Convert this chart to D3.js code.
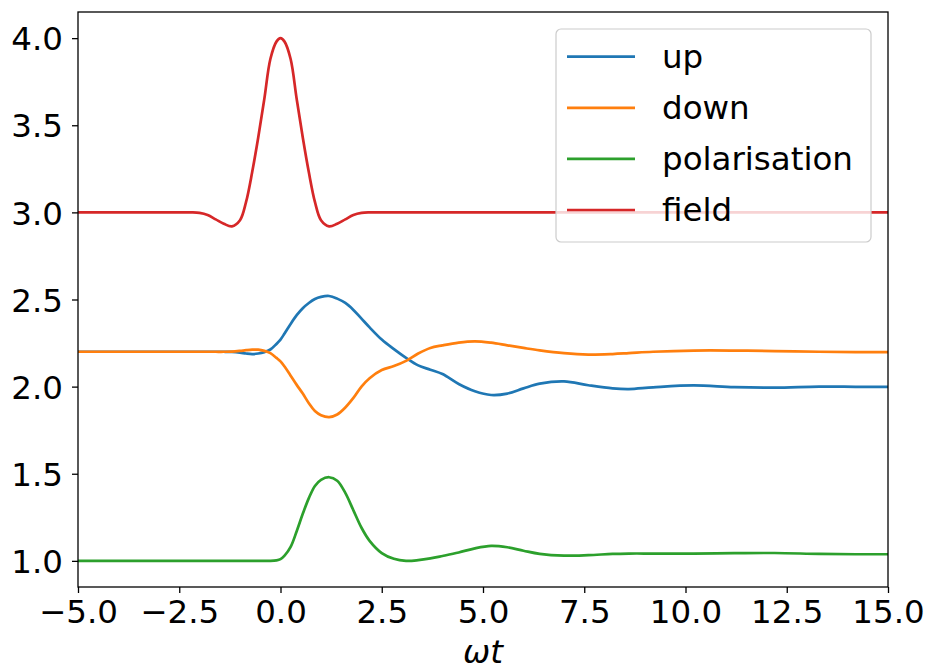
<!DOCTYPE html>
<html>
<head>
<meta charset="utf-8">
<script src="https://cdn.jsdelivr.net/npm/d3@7"></script>
<style>
  html, body { margin: 0; padding: 0; background: #ffffff; }
  svg { display: block; }
</style>
</head>
<body>
<svg id="chart" width="926" height="671"></svg>
<script>
// ---- data ----
const t = [-5, -2.5, -2.2, -2.0, -1.8, -1.6, -1.4, -1.2, -1.0, -0.85, -0.7, -0.55, -0.4, -0.25, -0.1, 0,
           0.1, 0.25, 0.4, 0.55, 0.7, 0.85, 1.0, 1.2, 1.4, 1.6, 1.8, 2.0, 2.2, 2.5, 2.8, 3.1, 3.4, 3.7,
           4.0, 4.4, 4.8, 5.2, 5.6, 6.0, 6.4, 7.0, 7.6, 8.2, 8.6, 9.2, 10.2, 11.2, 12.2, 13.3, 14.2, 15];

const up = [2.2, 2.2, 2.2, 2.2, 2.2, 2.2, 2.2, 2.199, 2.195, 2.19, 2.187, 2.19, 2.198, 2.213, 2.245, 2.27,
            2.305, 2.36, 2.41, 2.45, 2.48, 2.503, 2.515, 2.52, 2.505, 2.48, 2.44, 2.39, 2.34, 2.27, 2.215, 2.165, 2.122, 2.097,
            2.072, 2.015, 1.973, 1.952, 1.96, 1.99, 2.017, 2.03, 2.008, 1.99, 1.986, 1.996, 2.007, 1.997, 1.994, 2.0, 1.999, 1.998];

const down = [2.2, 2.2, 2.2, 2.2, 2.2, 2.2, 2.2, 2.201, 2.205, 2.209, 2.212, 2.212, 2.205, 2.192, 2.165, 2.145,
              2.115, 2.063, 2.01, 1.96, 1.905, 1.86, 1.836, 1.825, 1.84, 1.88, 1.935, 2.0, 2.048, 2.095, 2.118, 2.148, 2.19, 2.222,
              2.237, 2.253, 2.26, 2.252, 2.237, 2.222, 2.208, 2.192, 2.184, 2.187, 2.192, 2.2, 2.207, 2.207, 2.204, 2.2, 2.198, 2.198];

const polarisation = [1.0, 1.0, 1.0, 1.0, 1.0, 1.0, 1.0, 1.0, 1.0, 1.0, 1.0, 1.0, 1.0, 1.0, 1.003, 1.01,
                      1.03, 1.08, 1.17, 1.27, 1.36, 1.43, 1.465, 1.48, 1.46, 1.39, 1.29, 1.19, 1.115, 1.045, 1.012, 1.0, 1.004, 1.014,
                      1.028, 1.048, 1.072, 1.086, 1.078, 1.058, 1.04, 1.03, 1.033, 1.04, 1.042, 1.042, 1.042, 1.044, 1.045, 1.04, 1.038, 1.038];

const field = [3.0, 3.0, 3.0, 2.997, 2.985, 2.96, 2.935, 2.92, 2.955, 3.06, 3.23, 3.43, 3.65, 3.88, 3.98, 4.0,
               3.98, 3.88, 3.65, 3.43, 3.23, 3.06, 2.955, 2.92, 2.935, 2.96, 2.985, 2.997, 3.0, 3.0, 3.0, 3.0, 3.0, 3.0,
               3.0, 3.0, 3.0, 3.0, 3.0, 3.0, 3.0, 3.0, 3.0, 3.0, 3.0, 3.0, 3.0, 3.0, 3.0, 3.0, 3.0, 3.0];

const seriesNames = ["up", "down", "polarisation", "field"];
const seriesColors = ["#1f77b4", "#ff7f0e", "#2ca02c", "#d62728"];
const xTicks = [-5, -2.5, 0, 2.5, 5, 7.5, 10, 12.5, 15];
const yTicks = [1.0, 1.5, 2.0, 2.5, 3.0, 3.5, 4.0];
const xLabel = "ωt";

// ---- layout ----
const svg = d3.select("#chart");
const L = 78, R = 888, T = 12, B = 587;
const FONT = "'DejaVu Sans', sans-serif";
const FS = 32.5;

const x = d3.scaleLinear().domain([-5, 15]).range([L, R]);
const y = d3.scaleLinear().domain([0.85, 4.15]).range([B, T]);

const allSeries = [up, down, polarisation, field];

svg.append("defs").append("clipPath").attr("id", "clip")
  .append("rect").attr("x", L).attr("y", T).attr("width", R - L).attr("height", B - T);

const line = d3.line()
  .x((d, i) => x(t[i]))
  .y(d => y(d))
  .curve(d3.curveCatmullRom.alpha(0.5));

const plot = svg.append("g").attr("clip-path", "url(#clip)");
allSeries.forEach((s, k) => {
  plot.append("path")
    .datum(s)
    .attr("d", line)
    .attr("fill", "none")
    .attr("stroke", seriesColors[k])
    .attr("stroke-width", 2.7)
    .attr("stroke-linejoin", "round")
    .attr("stroke-linecap", "butt");
});

// ---- axes ----
const fmt = v => d3.format(".1f")(v).replace("-", "\u2212");

const xAxis = svg.append("g")
  .attr("transform", `translate(0,${B})`)
  .call(d3.axisBottom(x).tickValues(xTicks).tickFormat(fmt).tickSizeOuter(0).tickSize(6).tickPadding(7));
const yAxis = svg.append("g")
  .attr("transform", `translate(${L},0)`)
  .call(d3.axisLeft(y).tickValues(yTicks).tickFormat(fmt).tickSizeOuter(0).tickSize(6).tickPadding(9));

[xAxis, yAxis].forEach(g => {
  g.select(".domain").remove();
  g.selectAll(".tick line").attr("stroke", "#000").attr("stroke-width", 1.3);
  g.selectAll(".tick text").attr("fill", "#000").style("font-family", FONT).style("font-size", FS + "px");
});
yAxis.selectAll(".tick text").attr("dy", "0.36em");

// frame
svg.append("rect")
  .attr("x", L).attr("y", T).attr("width", R - L).attr("height", B - T)
  .attr("fill", "none").attr("stroke", "#000").attr("stroke-width", 1.3);

// x label
svg.append("text")
  .attr("x", (L + R) / 2).attr("y", 663)
  .attr("text-anchor", "middle")
  .style("font-family", FONT).style("font-style", "italic").style("font-size", FS + "px")
  .attr("fill", "#000")
  .text(xLabel);

// ---- legend ----
const lg = svg.append("g");
lg.append("rect")
  .attr("x", 556).attr("y", 29).attr("width", 315).attr("height", 213)
  .attr("rx", 5).attr("ry", 5)
  .attr("fill", "#ffffff").attr("fill-opacity", 0.8)
  .attr("stroke", "#cccccc").attr("stroke-width", 1.2);
const rowY = d3.scaleLinear().domain([0, 3]).range([56.7, 210]);
seriesNames.forEach((name, k) => {
  const yy = rowY(k);
  lg.append("line")
    .attr("x1", 567).attr("x2", 635).attr("y1", yy).attr("y2", yy)
    .attr("stroke", seriesColors[k]).attr("stroke-width", 2.7);
  lg.append("text")
    .attr("x", 662).attr("y", yy + 11)
    .style("font-family", FONT).style("font-size", FS + "px")
    .attr("fill", "#000")
    .text(name);
});
</script>
</body>
</html>
